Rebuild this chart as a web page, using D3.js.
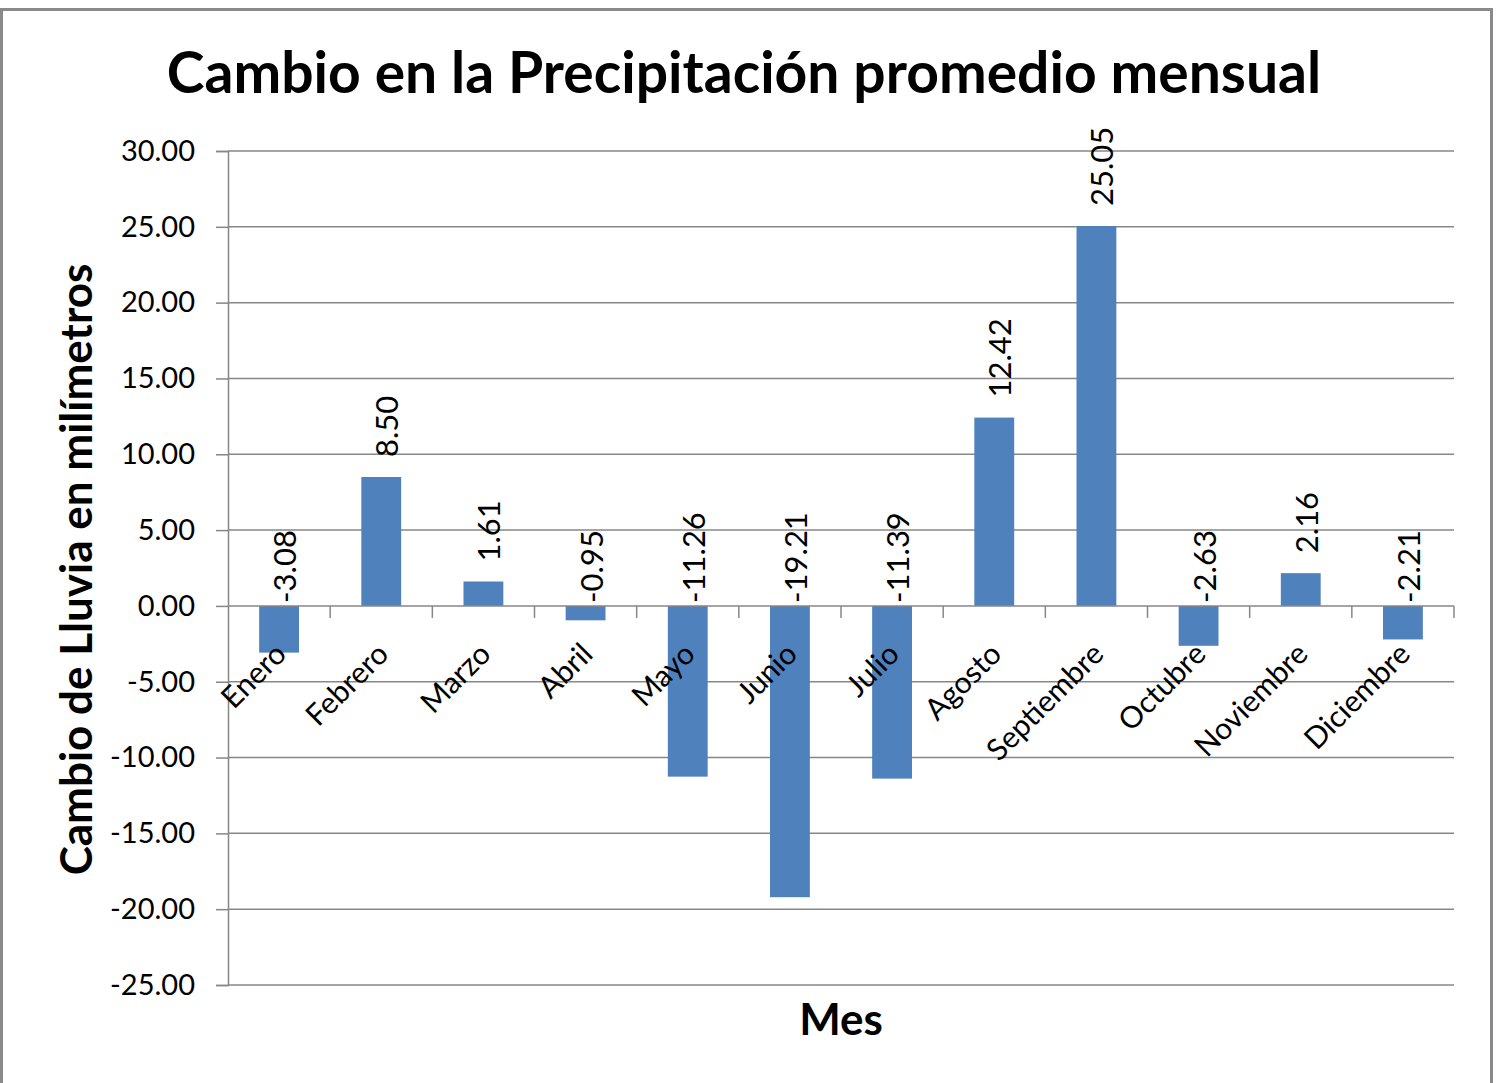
<!DOCTYPE html>
<html>
<head>
<meta charset="utf-8">
<script src="https://cdn.jsdelivr.net/npm/d3@7"></script>
<style>
  html, body { margin: 0; padding: 0; background: #fff; }
  svg { display: block; }
  text { font-family: Lato, "Liberation Sans", sans-serif; fill: #000; }
</style>
</head>
<body>
<svg id="chart" width="1496" height="1083"></svg>
<script>
// Monthly change in average precipitation (mm)
const months = ["Enero", "Febrero", "Marzo", "Abril", "Mayo", "Junio", "Julio",
                "Agosto", "Septiembre", "Octubre", "Noviembre", "Diciembre"];
const changes = [-3.08, 8.50, 1.61, -0.95, -11.26, -19.21, -11.39,
                 12.42, 25.05, -2.63, 2.16, -2.21];
const yTicks = [30, 25, 20, 15, 10, 5, 0, -5, -10, -15, -20, -25];

const titleText = "Cambio en la Precipitación promedio mensual";
const yTitle = "Cambio de Lluvia en milímetros";
const xTitle = "Mes";

const svg = d3.select("#chart");
const W = 1496, H = 1083;
const plot = { left: 228, right: 1454, top: 151, bottom: 985 };
const gridColor = "#878787";
const barColor = "#4F81BD";
const fmt = d => d.toFixed(2); // plain hyphen for negatives

// outer chart frame
svg.append("rect")
  .attr("x", 1.5).attr("y", 9.5)
  .attr("width", 1490).attr("height", H + 10)
  .attr("fill", "#fff").attr("stroke", "#8a8a8a").attr("stroke-width", 3);

const x = d3.scaleBand()
  .domain(months)
  .range([plot.left, plot.right])
  .paddingInner(0.61)
  .paddingOuter(0.305);

const y = d3.scaleLinear()
  .domain([-25, 30])
  .range([plot.bottom, plot.top]);

// value axis with gridlines
const yAxis = d3.axisLeft(y)
  .tickValues(yTicks)
  .tickFormat(fmt)
  .tickSize(12)
  .tickPadding(21);

const gy = svg.append("g")
  .attr("transform", `translate(${plot.left},0)`)
  .call(yAxis);
gy.select(".domain").attr("stroke", gridColor).attr("stroke-width", 1.5);
gy.selectAll(".tick line").attr("stroke", gridColor).attr("stroke-width", 1.5);
gy.selectAll(".tick text")
  .style("font-family", "Lato, sans-serif")
  .style("font-size", "29px")
  .attr("fill", "#1a1a1a");

svg.append("g")
  .selectAll("line")
  .data(yTicks.filter(d => d !== 0))
  .join("line")
  .attr("x1", plot.left).attr("x2", plot.right)
  .attr("y1", d => y(d)).attr("y2", d => y(d))
  .attr("stroke", gridColor).attr("stroke-width", 1.5);

// bars
svg.append("g")
  .selectAll("rect")
  .data(changes)
  .join("rect")
  .attr("x", (d, i) => x(months[i]))
  .attr("width", x.bandwidth())
  .attr("y", d => y(Math.max(0, d)))
  .attr("height", d => Math.abs(y(d) - y(0)))
  .attr("fill", barColor);

// category axis along zero, ticks between categories
const step = x.step();
const boundaries = d3.range(months.length + 1).map(i => plot.left + i * step);
const gx = svg.append("g");
gx.append("line")
  .attr("x1", plot.left).attr("x2", plot.right)
  .attr("y1", y(0)).attr("y2", y(0))
  .attr("stroke", gridColor).attr("stroke-width", 1.5);
gx.selectAll("line.tk")
  .data(boundaries.slice(1))
  .join("line")
  .attr("class", "tk")
  .attr("x1", d => d).attr("x2", d => d)
  .attr("y1", y(0)).attr("y2", y(0) + 12)
  .attr("stroke", gridColor).attr("stroke-width", 1.5);

// rotated month labels
gx.selectAll("text")
  .data(months)
  .join("text")
  .attr("transform", d => `translate(${x(d) + x.bandwidth() / 2 + 9},${y(0) + 50}) rotate(-45)`)
  .attr("text-anchor", "end")
  .style("font-size", "30px")
  .attr("fill", "#111")
  .text(d => d);

// value labels, rotated vertical
svg.append("g")
  .selectAll("text")
  .data(changes)
  .join("text")
  .attr("transform", (d, i) => {
    const cx = x(months[i]) + x.bandwidth() / 2 + 17;
    const cy = d >= 0 ? y(d) - 20 : y(0) - 3;
    return `translate(${cx},${cy}) rotate(-90)`;
  })
  .attr("text-anchor", "start")
  .style("font-size", "31px")
  .attr("fill", "#111")
  .text(fmt);

// titles
svg.append("text")
  .attr("x", 744).attr("y", 93)
  .attr("text-anchor", "middle")
  .style("font-size", "57px")
  .style("font-weight", "bold")
  .text(titleText);

svg.append("text")
  .attr("transform", `translate(92,${(262 + 877) / 2}) rotate(-90)`)
  .attr("text-anchor", "middle")
  .style("font-size", "44px")
  .style("font-weight", "bold")
  .text(yTitle);

svg.append("text")
  .attr("x", (plot.left + plot.right) / 2).attr("y", 1035)
  .attr("text-anchor", "middle")
  .style("font-size", "44px")
  .style("font-weight", "bold")
  .text(xTitle);
</script>
</body>
</html>
